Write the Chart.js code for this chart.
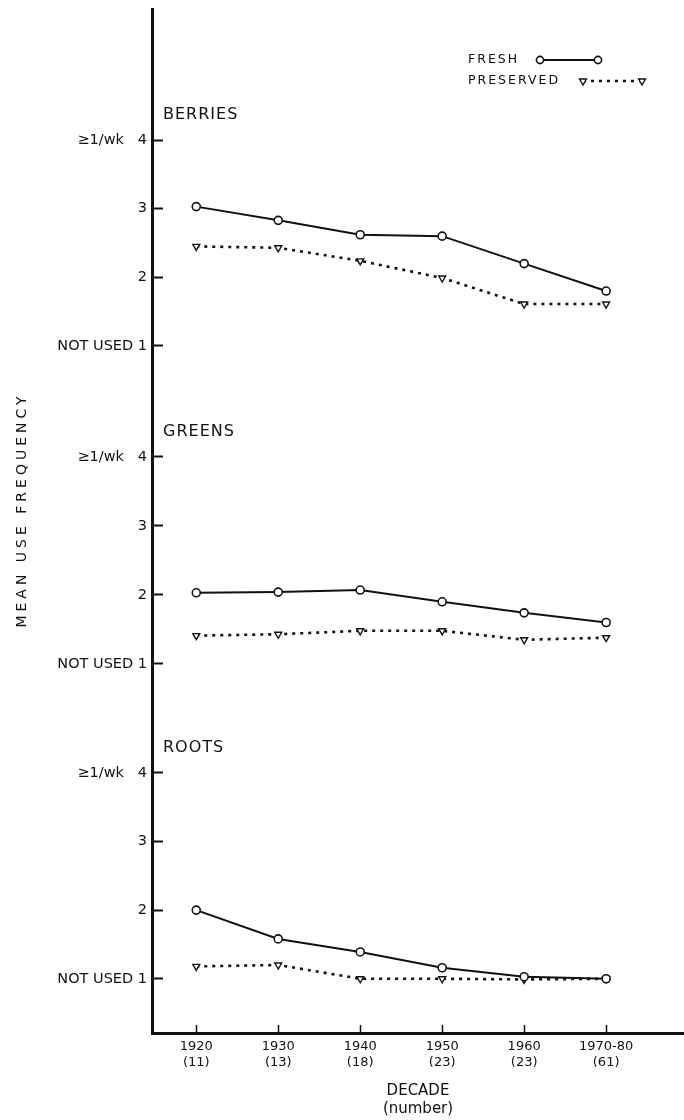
<!DOCTYPE html>
<html>
<head>
<meta charset="utf-8">
<script src="https://cdn.jsdelivr.net/npm/chart.js@4.4.1/dist/chart.umd.min.js"></script>
<style>
  html, body { margin: 0; padding: 0; background: #fff; overflow: hidden; }
  #wrap { width: 684px; height: 1120px; }
  canvas { display: block; }
</style>
</head>
<body>
<div id="wrap"><canvas id="chart"></canvas></div>
<script>
// values (1 = not used, 4 = at least once a week)
const decades = ['1920', '1930', '1940', '1950', '1960', '1970-80'];
const counts = ['(11)', '(13)', '(18)', '(23)', '(23)', '(61)'];
const yTicks = [1, 2, 3, 4];
const seriesNames = ['FRESH', 'PRESERVED'];
const panelNames = ['BERRIES', 'GREENS', 'ROOTS'];

const berriesFresh = [3.03, 2.83, 2.62, 2.60, 2.20, 1.80];
const berriesPreserved = [2.45, 2.43, 2.24, 1.99, 1.61, 1.61];
const greensFresh = [2.03, 2.04, 2.07, 1.90, 1.74, 1.60];
const greensPreserved = [1.41, 1.43, 1.48, 1.48, 1.35, 1.38];
const rootsFresh = [2.00, 1.58, 1.39, 1.16, 1.03, 1.00];
const rootsPreserved = [1.18, 1.20, 1.00, 1.00, 0.99, 1.00];

const ink = '#111';
const font = "'DejaVu Sans', sans-serif";
Chart.defaults.font.family = font;
Chart.defaults.color = ink;

const toPoints = vals => vals.map((v, i) => ({ x: i, y: v }));

function freshSet(vals, axis) {
    return {
        label: seriesNames[0], data: toPoints(vals), yAxisID: axis,
        borderColor: ink, borderWidth: 2, tension: 0,
        pointStyle: 'circle', pointRadius: 4, pointBorderWidth: 1.6,
        pointBackgroundColor: '#fff', pointBorderColor: ink
    };
}

function preservedSet(vals, axis) {
    return {
        label: seriesNames[1], data: toPoints(vals), yAxisID: axis,
        borderColor: ink, borderWidth: 2.6, borderDash: [3, 5], tension: 0,
        pointStyle: 'triangle', rotation: 180, pointRadius: 4, pointBorderWidth: 1.4,
        pointBackgroundColor: '#fff', pointBorderColor: ink
    };
}

// three panels stacked on one left axis
function panelAxis(min, max, stackWeight, weight) {
    return {
        type: 'linear', position: 'left', stack: 'panels', stackWeight, weight,
        min, max,
        afterBuildTicks: s => { s.ticks = yTicks.map(v => ({ value: v })); },
        afterFit: s => { s.width = 152; s.paddingTop = 0; s.paddingBottom = 0; },
        border: { color: ink, width: 3 },
        grid: { drawOnChartArea: false, tickLength: -11, tickWidth: 2, tickColor: ink },
        ticks: {
            padding: 16, color: ink, font: { size: 14.5 },
            callback: v => v === 4 ? '\u22651/wk   4' : v === 1 ? 'NOT USED 1' : String(v)
        }
    };
}

const axisIds = ['yB', 'yG', 'yR'];

const labelsPlugin = {
    id: 'labelsPlugin',
    afterDraw(chart) {
        const ctx = chart.ctx;
        ctx.save();
        ctx.fillStyle = ink;
        ctx.strokeStyle = ink;
        ctx.textBaseline = 'middle';

        // panel names
        ctx.font = '16px ' + font;
        ctx.letterSpacing = '1px';
        panelNames.forEach((name, k) => {
            const s = chart.scales[axisIds[k]];
            ctx.fillText(name, 163, s.getPixelForValue(4) - 25);
        });

        // y title
        ctx.save();
        ctx.translate(22, 510);
        ctx.rotate(-Math.PI / 2);
        ctx.textAlign = 'center';
        ctx.font = '14px ' + font;
        ctx.letterSpacing = '4px';
        ctx.fillText('MEAN USE FREQUENCY', 0, 0);
        ctx.restore();

        // legend
        ctx.font = '12.5px ' + font;
        ctx.letterSpacing = '2px';
        ctx.fillText(seriesNames[0], 468, 60);
        ctx.fillText(seriesNames[1], 468, 81);
        ctx.letterSpacing = '0px';

        ctx.lineWidth = 2;
        ctx.beginPath(); ctx.moveTo(540, 60); ctx.lineTo(598, 60); ctx.stroke();
        ctx.lineWidth = 2.6;
        ctx.setLineDash([3, 5]);
        ctx.beginPath(); ctx.moveTo(583, 81); ctx.lineTo(642, 81); ctx.stroke();
        ctx.setLineDash([]);

        ctx.fillStyle = '#fff';
        const circ = { pointStyle: 'circle', radius: 3.6, borderWidth: 1.6, rotation: 0 };
        const tri = { pointStyle: 'triangle', radius: 4, borderWidth: 1.4, rotation: 180 };
        ctx.lineWidth = 1.6;
        Chart.helpers.drawPoint(ctx, circ, 540, 60);
        Chart.helpers.drawPoint(ctx, circ, 598, 60);
        ctx.lineWidth = 1.4;
        Chart.helpers.drawPoint(ctx, tri, 583, 81);
        Chart.helpers.drawPoint(ctx, tri, 642, 81);
        ctx.restore();
    }
};

new Chart(document.getElementById('chart'), {
    type: 'line',
    data: {
        datasets: [
            freshSet(berriesFresh, 'yB'), preservedSet(berriesPreserved, 'yB'),
            freshSet(greensFresh, 'yG'), preservedSet(greensPreserved, 'yG'),
            freshSet(rootsFresh, 'yR'), preservedSet(rootsPreserved, 'yR')
        ]
    },
    options: {
        responsive: true,
        maintainAspectRatio: false,
        animation: false,
        layout: { autoPadding: false, padding: { top: 9, right: 0, bottom: 0, left: 0 } },
        plugins: { legend: { display: false }, tooltip: { enabled: false } },
        scales: {
            x: {
                type: 'linear', min: -0.54, max: 5.95,
                afterBuildTicks: s => { s.ticks = decades.map((d, i) => ({ value: i })); },
                afterFit: s => { s.height = 87; s.paddingLeft = 0; s.paddingRight = 0; },
                border: { color: ink, width: 3 },
                grid: { drawOnChartArea: false, tickLength: -8, tickWidth: 1.5, tickColor: ink },
                ticks: {
                    padding: 14, color: ink, font: { size: 13 }, maxRotation: 0, autoSkip: false,
                    callback: v => [decades[v], counts[v]]
                },
                title: {
                    display: true, text: ['DECADE', '(number)'], color: ink,
                    font: { size: 15 }, padding: { top: 0, bottom: 2 }
                }
            },
            yB: panelAxis(0.19, 5.91, 392.5, 3),
            yG: panelAxis(0.21, 4.80, 317, 2),
            yR: panelAxis(0.21, 4.79, 314.5, 1)
        }
    },
    plugins: [labelsPlugin]
});
</script>
</body>
</html>
